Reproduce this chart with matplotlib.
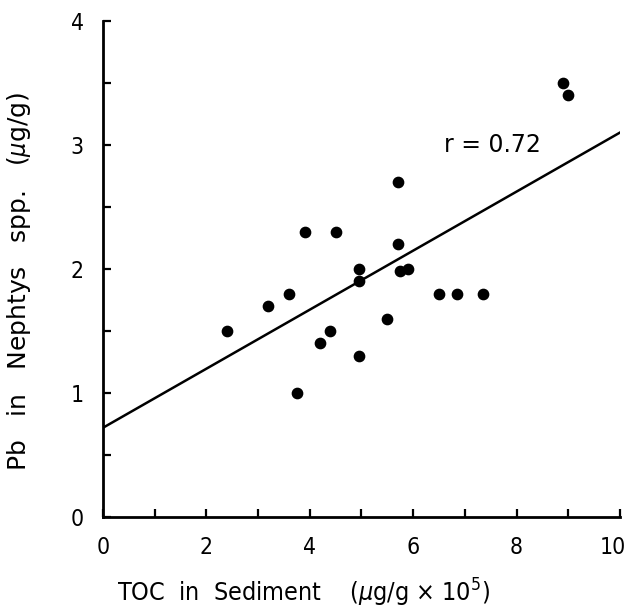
# Pb in Nephtys spp. vs. TOC in sediment

import numpy as np
import matplotlib.pyplot as plt
from matplotlib.transforms import ScaledTranslation

plt.rcParams['font.family'] = ['DejaVu Sans']
plt.rcParams['font.stretch'] = 'condensed'

# Datos
toc = [2.4, 3.2, 3.6, 3.9, 3.75, 4.2, 4.4, 4.5, 4.95, 4.95, 4.95,
       5.5, 5.7, 5.7, 5.75, 5.9, 6.5, 6.85, 7.35, 8.9, 9.0]
pb = [1.5, 1.7, 1.8, 2.3, 1.0, 1.4, 1.5, 2.3, 2.0, 1.9, 1.3,
      1.6, 2.2, 2.7, 1.98, 2.0, 1.8, 1.8, 1.8, 3.5, 3.4]

# Recta de regresion (como aparece en la figura)
fit_x = [0, 10]
fit_y = [0.72, 3.10]
r_text = 'r = 0.72'

fig = plt.figure(figsize=(6.3, 6.15), dpi=100)
ax = fig.add_axes([0.1635, 0.1593, 0.8205, 0.8066])

ax.plot(fit_x, fit_y, color='black', linewidth=1.8)
ax.scatter(toc, pb, s=55, color='black', zorder=3)

ax.text(6.6, 3.0, r_text, fontsize=17, fontstretch='normal',
        va='center', ha='left')

ax.set_xlim(0, 10)
ax.set_ylim(0, 4)
ax.set_xticks(np.arange(0, 11, 2))
ax.set_xticks(np.arange(0, 11, 1), minor=True)
ax.set_yticks(np.arange(0, 5, 1))
ax.set_yticks(np.arange(0, 4.01, 0.5), minor=True)

for side in ['top', 'right']:
    ax.spines[side].set_visible(False)
for side in ['left', 'bottom']:
    ax.spines[side].set_linewidth(2.0)

ax.tick_params(which='both', direction='in', width=1.6, length=6, labelsize=16.5)
ax.tick_params(axis='x', pad=14)
ax.tick_params(axis='y', pad=14)

# el "10" queda un poco a la izquierda de su marca, como en el original
ultimo = ax.get_xticklabels()[-1]
ultimo.set_transform(ultimo.get_transform() + ScaledTranslation(-5 / 72, 0, fig.dpi_scale_trans))

ax.set_xlabel('TOC  in  Sediment    ($\\mu$g/g × 10$^5$)', fontsize=18)
ax.xaxis.set_label_coords(0.387, -0.12)
ax.set_ylabel('Pb   in   Nephtys   spp.   ($\\mu$g/g)', fontsize=18,
              fontstretch='normal')
ax.yaxis.set_label_coords(-0.135, 0.474)

plt.savefig('out.png', dpi=100)
